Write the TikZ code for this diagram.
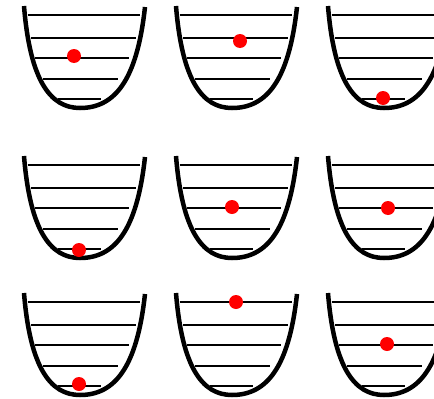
\documentclass[tikz,border=0pt]{standalone}
\begin{document}
\begin{tikzpicture}[x=1pt,y=-1pt,
  well/.style={line width=4.5pt,line cap=butt},
  level/.style={line width=2pt},
  ball/.style={fill=red}]
\useasboundingbox (0,0) rectangle (434,399);
\clip (0,0) rectangle (434,399);
\foreach \cx/\cy in {80/108,232/108,384/108,80/258,232/258,384/258,80/395,232/395,384/395}{
  \begin{scope}[shift={(\cx,\cy)}]
    \draw[level] (-52,-93) -- (60,-93);
    \draw[level] (-49,-70) -- (56,-70);
    \draw[level] (-45,-50) -- (49,-50);
    \draw[level] (-37,-29) -- (38,-29);
    \draw[level] (-22,-9) -- (21,-9);
    \draw[well] (-56,-102) .. controls (-50,-28) and (-30,0) .. (0,0)
                           .. controls (35,0) and (57,-28) .. (65,-101);
  \end{scope}
}
\fill[ball] (74,56) circle (7pt);
\fill[ball] (240,41) circle (7pt);
\fill[ball] (383,98) circle (7pt);
\fill[ball] (79,250) circle (7pt);
\fill[ball] (232,207) circle (7pt);
\fill[ball] (388,208) circle (7pt);
\fill[ball] (79,384) circle (7pt);
\fill[ball] (236,302) circle (7pt);
\fill[ball] (387,344) circle (7pt);
\end{tikzpicture}
\end{document}
